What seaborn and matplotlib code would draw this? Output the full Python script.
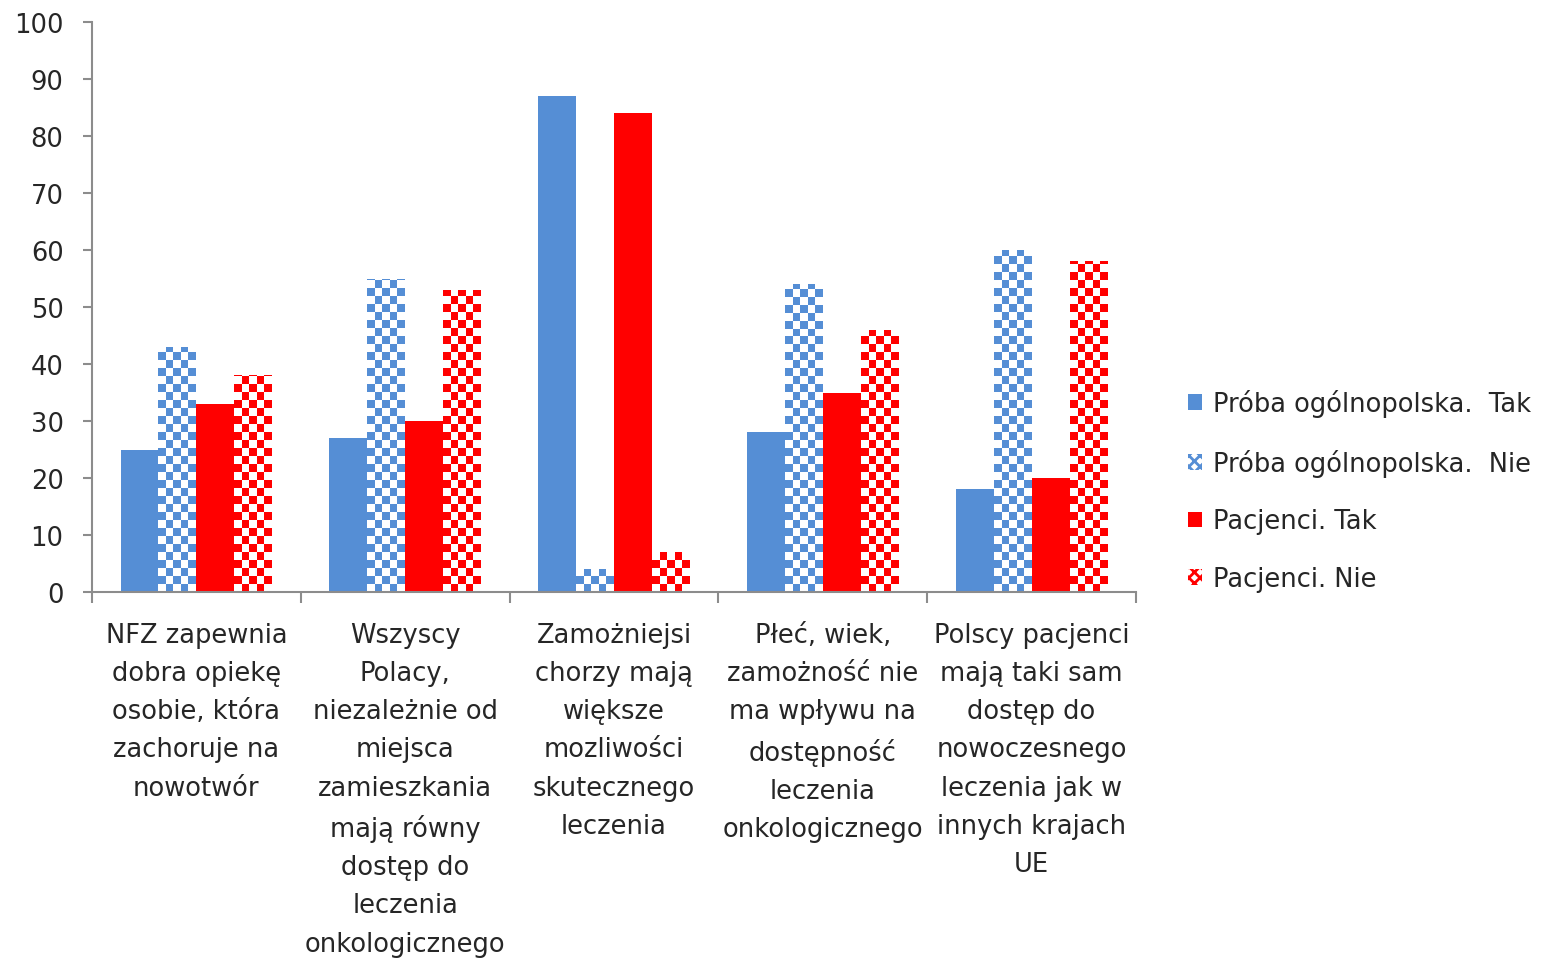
import numpy as np
import pandas as pd
import matplotlib
matplotlib.use("Agg")
import matplotlib.pyplot as plt
import seaborn as sns
from matplotlib.colors import ListedColormap
from matplotlib.patches import Patch

categories = [
    "NFZ zapewnia\ndobra opiekę\nosobie, która\nzachoruje na\nnowotwór",
    "Wszyscy\nPolacy,\nniezależnie od\nmiejsca\nzamieszkania\nmają równy\ndostęp do\nleczenia\nonkologicznego",
    "Zamożniejsi\nchorzy mają\nwiększe\nmozliwości\nskutecznego\nleczenia",
    "Płeć, wiek,\nzamożność nie\nma wpływu na\ndostępność\nleczenia\nonkologicznego",
    "Polscy pacjenci\nmają taki sam\ndostęp do\nnowoczesnego\nleczenia jak w\ninnych krajach\nUE",
]
series = ["Próba ogólnopolska.  Tak", "Próba ogólnopolska.  Nie",
          "Pacjenci. Tak", "Pacjenci. Nie"]
proba_tak = [25, 27, 87, 28, 18]
proba_nie = [43, 55, 4, 54, 60]
pacjenci_tak = [33, 30, 84, 35, 20]
pacjenci_nie = [38, 53, 7, 46, 58]

blue = "#558ED5"
red = "#FF0000"
colors = [blue, blue, red, red]
checkered = [False, True, False, True]

df = pd.DataFrame({
    "kategoria": categories * 4,
    "seria": np.repeat(series, len(categories)),
    "wartosc": proba_tak + proba_nie + pacjenci_tak + pacjenci_nie,
})

sns.set_theme(style="white")
plt.rcParams["font.family"] = ["DejaVu Sans"]
text_color = "#262626"
fs = 18.5

fig = plt.figure(figsize=(15.41, 9.62), dpi=100)
ax = fig.add_axes([92 / 1541, 1 - 593 / 962, (1136 - 92) / 1541, (593 - 23) / 962])

sns.barplot(data=df, x="kategoria", y="wartosc", hue="seria", hue_order=series,
            palette=colors, width=0.727, gap=0, saturation=1, legend=False,
            edgecolor="none", linewidth=0, ax=ax)

# checkerboard texture on the "Nie" series
cell = 1.4  # y units per checker square
for cont, col, chk in zip(ax.containers, colors, checkered):
    if not chk:
        continue
    cmap = ListedColormap(["white", col])
    for p in cont.patches:
        x0, w, h = p.get_x(), p.get_width(), p.get_height()
        nrows = max(1, int(np.ceil(h / cell)))
        ncols = 5
        board = (np.add.outer(np.arange(nrows), np.arange(ncols)) % 2).astype(float)
        p.set_facecolor("white")
        im = ax.imshow(board, cmap=cmap, extent=(x0, x0 + w, 0, nrows * cell),
                       origin="lower", aspect="auto", interpolation="nearest",
                       vmin=0, vmax=1, zorder=p.get_zorder() + 0.1)
        im.set_clip_path(p)

ax.set_xlim(-0.5, len(categories) - 0.5)
ax.set_ylim(0, 100)
ax.set_yticks(range(0, 101, 10))
ax.set_xlabel("")
ax.set_ylabel("")

for side in ["top", "right"]:
    ax.spines[side].set_visible(False)
for side in ["left", "bottom"]:
    ax.spines[side].set_color("#8c8c8c")
    ax.spines[side].set_linewidth(1.5)

ax.tick_params(axis="y", which="major", direction="out", length=6.5, width=1.5,
               color="#8c8c8c", labelsize=fs, labelcolor=text_color, pad=14, left=True)
ax.set_xticks(range(len(categories)))
ax.set_xticklabels(categories, fontsize=fs, color=text_color, linespacing=1.61,
                   va="top")
ax.set_xticks(np.arange(-0.5, len(categories), 1.0), minor=True)
ax.tick_params(axis="x", which="major", length=0, pad=21.5)
ax.tick_params(axis="x", which="minor", direction="out", length=8, width=1.5,
               color="#8c8c8c", bottom=True)

plt.rcParams["hatch.linewidth"] = 2.0
handles = []
for name, col, chk in zip(series, colors, checkered):
    if chk:
        handles.append(Patch(facecolor="white", edgecolor=col, hatch="xxx",
                             linewidth=0, label=name))
    else:
        handles.append(Patch(facecolor=col, edgecolor="none", label=name))
leg = fig.legend(handles=handles, loc="upper left",
                 bbox_to_anchor=(1178 / 1541, 1 - 380 / 962), frameon=False,
                 fontsize=fs, labelspacing=1.23, handlelength=0.55,
                 handleheight=0.55, handletextpad=0.4, borderaxespad=0)
for t in leg.get_texts():
    t.set_color(text_color)

fig.savefig("out.png", dpi=100)
